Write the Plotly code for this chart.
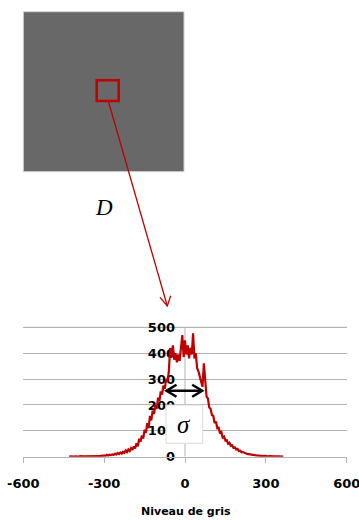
import plotly.graph_objects as go

W, H = 359, 520

# ---- data: grey-level histogram ----
niveau = [-430, -425, -420, -415, -410, -405, -400, -395, -390, -385, -380, -375, -370, -365, -360,
          -355, -350, -345, -340, -335, -330, -325, -320, -315, -310, -305, -300, -295, -290, -285,
          -280, -275, -270, -265, -260, -255, -250, -245, -240, -235, -230, -225, -220, -215, -210,
          -205, -200, -195, -190, -185, -180, -175, -170, -165, -160, -155, -150, -145, -140, -135,
          -130, -125, -120, -115, -110, -105, -100, -95, -90, -85, -80, -75, -70, -65, -60,
          -55, -50, -45, -40, -35, -30, -25, -20, -15, -10, -5, 0, 5, 10, 15,
          20, 25, 30, 35, 40, 45, 50, 55, 60, 65, 70, 75, 80, 85, 90,
          95, 100, 105, 110, 115, 120, 125, 130, 135, 140, 145, 150, 155, 160, 165,
          170, 175, 180, 185, 190, 195, 200, 205, 210, 215, 220, 225, 230, 235, 240,
          245, 250, 255, 260, 265, 270, 275, 280, 285, 290, 295, 300, 305, 310, 315,
          320, 325, 330, 335, 340, 345, 350, 355, 360, 365]
effectif = [0, 1, 1, 0, 1, 1, 0, 1, 1, 2, 1, 1, 2, 1, 2,
            1, 2, 2, 1, 3, 2, 2, 3, 2, 4, 3, 5, 3, 7, 4,
            8, 6, 9, 7, 11, 9, 14, 10, 16, 12, 19, 15, 24, 18, 28,
            22, 33, 26, 40, 32, 52, 40, 70, 58, 82, 70, 104, 92, 130, 110,
            158, 140, 178, 165, 200, 185, 228, 215, 252, 240, 275, 262, 300, 290, 330,
            420, 385, 430, 375, 400, 365, 395, 370, 415, 470, 385, 450, 395, 430, 380,
            420, 395, 477, 380, 400, 342, 330, 309, 290, 270, 361, 300, 232, 225, 190,
            185, 160, 158, 130, 136, 110, 112, 90, 95, 74, 78, 62, 64, 50, 54,
            42, 44, 34, 36, 28, 30, 22, 23, 17, 18, 14, 13, 11, 10, 8,
            9, 6, 7, 5, 5, 4, 4, 3, 3, 2, 3, 2, 2, 1, 2,
            1, 1, 1, 1, 0, 1, 1, 0, 1, 0]

x_ticks = [-600, -300, 0, 300, 600]
y_ticks = [0, 100, 200, 300, 400, 500]
x_title = "Niveau de gris"

# ---- layout geometry ----
x_range = [-600, 600]
y_top = 512
y_range = [0, y_top]
px_per_unit_y = (456.7 - 327.3) / 500
x_dom = [23.3 / W, 346.7 / W]
y_dom = [1 - 456.7 / H, 1 - (456.7 - y_top * px_per_unit_y) / H]
yaxis_pos = x_dom[0] + (0 - x_range[0]) / (x_range[1] - x_range[0]) * (x_dom[1] - x_dom[0])

def px(x):
    return x / W

def py(y):
    return 1 - y / H

GRID = "#b3b3b3"
RED = "#c00000"
TICKFONT = dict(family="DejaVu Sans", size=13, color="black", weight="bold")

fig = go.Figure()
fig.add_trace(go.Scatter(x=niveau, y=effectif, mode="lines",
                         line=dict(color=RED, width=2.2), hoverinfo="skip", showlegend=False))

shapes = [
    # top gridline (value 500) drawn on the y scale
    dict(type="line", xref="paper", yref="y", x0=x_dom[0], x1=x_dom[1], y0=y_ticks[-1], y1=y_ticks[-1],
         line=dict(color=GRID, width=1), layer="below"),
    # grey image
    dict(type="rect", xref="paper", yref="paper", x0=px(23.3), x1=px(184), y0=py(171.7), y1=py(11.7),
         fillcolor="#686868", line=dict(color="#d4d4d4", width=1), layer="above"),
    # red region of interest
    dict(type="rect", xref="paper", yref="paper", x0=px(96.7), x1=px(118.7), y0=py(101), y1=py(80.3),
         fillcolor="rgba(0,0,0,0)", line=dict(color=RED, width=2.5), layer="above"),
    # red connector line + open arrow head
    dict(type="path", xref="paper", yref="paper",
         path=f"M {px(108.3)},{py(101)} L {px(167.3)},{py(306)}",
         line=dict(color=RED, width=1.3), layer="above"),
    dict(type="path", xref="paper", yref="paper",
         path=f"M {px(160)},{py(297.3)} L {px(167.3)},{py(306)} L {px(170.7)},{py(295.7)}",
         line=dict(color=RED, width=1.3), layer="above"),
    # sigma box
    dict(type="rect", xref="paper", yref="paper", x0=px(166), x1=px(202.7), y0=py(443.3), y1=py(405),
         fillcolor="white", line=dict(color="#d9d9d9", width=1), layer="above"),
    # double-headed arrow
    dict(type="path", xref="paper", yref="paper",
         path=f"M {px(167)},{py(390.7)} L {px(202)},{py(390.7)}",
         line=dict(color="black", width=2.5), layer="above"),
    dict(type="path", xref="paper", yref="paper",
         path=f"M {px(176.5)},{py(384.7)} L {px(166.5)},{py(390.7)} L {px(176.5)},{py(396.7)}",
         line=dict(color="black", width=2.5), layer="above"),
    dict(type="path", xref="paper", yref="paper",
         path=f"M {px(192.2)},{py(384.7)} L {px(202.2)},{py(390.7)} L {px(192.2)},{py(396.7)}",
         line=dict(color="black", width=2.5), layer="above"),
]

annotations = [
    dict(text="<i>D</i>", xref="paper", yref="paper", x=px(104.3), y=py(207.5),
         xanchor="center", yanchor="middle", showarrow=False,
         font=dict(family="Liberation Serif", size=23, color="black")),
    dict(text="<i>σ</i>", xref="paper", yref="paper", x=px(184.3), y=py(424),
         xanchor="center", yanchor="middle", showarrow=False,
         font=dict(family="Liberation Serif", size=25, color="black")),
    dict(text=f"<b>{x_title}</b>", xref="paper", yref="paper", x=px(185.5), y=py(511.5),
         xanchor="center", yanchor="middle", showarrow=False,
         font=dict(family="DejaVu Sans", size=11, color="black")),
]

fig.update_layout(
    template="none",
    width=W, height=H, autosize=False,
    margin=dict(l=0, r=0, t=0, b=0, pad=0),
    paper_bgcolor="white", plot_bgcolor="white",
    showlegend=False,
    shapes=shapes, annotations=annotations,
    xaxis=dict(domain=x_dom, range=x_range, tickvals=x_ticks, ticktext=[str(v) for v in x_ticks],
               showgrid=False, zeroline=False, showline=True, linecolor=GRID, linewidth=1,
               ticks="outside", ticklen=5, tickcolor=GRID, tickwidth=1, automargin=False,
               tickfont=TICKFONT, ticklabelstandoff=10, ticklabeloverflow="allow",
               anchor="y", fixedrange=True),
    yaxis=dict(domain=y_dom, range=y_range, tickvals=y_ticks, ticktext=[str(v) for v in y_ticks],
               showgrid=True, gridcolor=GRID, gridwidth=1, zeroline=False, automargin=False,
               showline=False, ticks="",
               anchor="free", position=yaxis_pos, tickfont=TICKFONT, ticklabelstandoff=10,
               layer="below traces", fixedrange=True),
)
# vertical axis line at x = 0, from 0 to 500 (as in the reference)
fig.add_shape(type="line", xref="x", yref="y", x0=0, x1=0, y0=y_ticks[0], y1=y_ticks[-1],
              line=dict(color=GRID, width=1), layer="below")

fig.write_html(
    "out.html",
    config={"displayModeBar": False},
    post_script="document.body.style.margin='0';document.body.style.padding='0';"
                "document.body.style.overflow='hidden';",
)
